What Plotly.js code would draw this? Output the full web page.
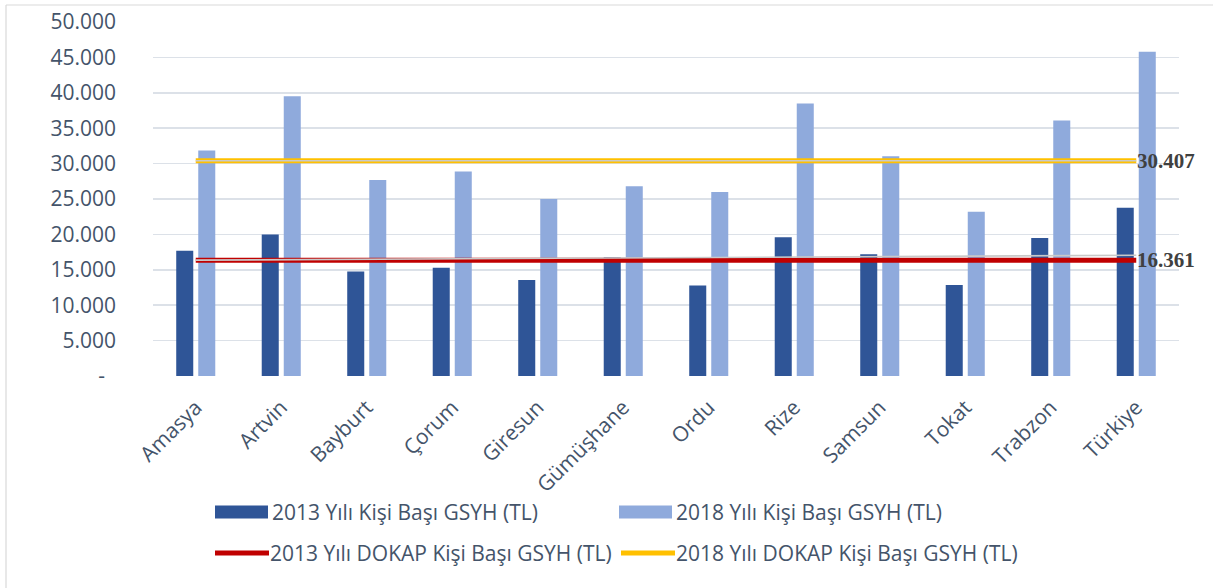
<!DOCTYPE html>
<html>
<head>
<meta charset="utf-8">
<script src="https://cdn.plot.ly/plotly-3.0.1.min.js"></script>
<style>
html,body{margin:0;padding:0;background:#fff;}
#chart{width:1213px;height:588px;}
</style>
</head>
<body>
<div id="chart"></div>
<script>
// ---- data ----
const categories = ["Amasya","Artvin","Bayburt","Çorum","Giresun","Gümüşhane","Ordu","Rize","Samsun","Tokat","Trabzon","Türkiye"];
const gsyh2013 = [17700, 20000, 14750, 15300, 13550, 16800, 12800, 19600, 17200, 12850, 19500, 23750];
const gsyh2018 = [31850, 39500, 27700, 28900, 25000, 26800, 26000, 38500, 31050, 23200, 36100, 45800];
const dokap2013 = [16361, 16361, 16361, 16361, 16361, 16361, 16361, 16361, 16361, 16361, 16361, 16361];
const dokap2018 = [30407, 30407, 30407, 30407, 30407, 30407, 30407, 30407, 30407, 30407, 30407, 30407];
const dokap2013GuideX = ["Amasya", "Türkiye"];
const dokap2013GuideY = [16361, 17050];
const seriesNames = ["2013 Yılı Kişi Başı GSYH (TL)", "2018 Yılı Kişi Başı GSYH (TL)", "2013 Yılı DOKAP Kişi Başı GSYH (TL)", "2018 Yılı DOKAP Kişi Başı GSYH (TL)"];
const yTickValues = [0, 5000, 10000, 15000, 20000, 25000, 30000, 35000, 40000, 45000, 50000];

// ---- style ----
const C2013 = "#2F5597", C2018 = "#8FAADC", CRED = "#C00000", CYEL = "#FFC000", CGUIDE = "#C9C9C9";
const TXT = "#44546A";
const FONT = "Open Sans, sans-serif";
const FS = 21;

function fmt(v){ return String(Math.round(v)).replace(/\B(?=(\d{3})+(?!\d))/g, "."); }
const yTickText = yTickValues.map(v => v === 0 ? "-\u00a0\u00a0" : fmt(v));

// plot area in pixels
const L = 153, R = 1179, T = 22, B = 376, W = 1213, H = 588;
const px = x => (x - L) / (R - L);
const py = y => (B - y) / (B - T);

const traces = [
  {type:"bar", x:categories, y:gsyh2013, name:seriesNames[0], marker:{color:C2013}, showlegend:false, cliponaxis:false},
  {type:"bar", x:categories, y:gsyh2018, name:seriesNames[1], marker:{color:C2018}, showlegend:false, cliponaxis:false},
  {type:"scatter", mode:"lines", x:categories, y:dokap2013, name:seriesNames[2], line:{color:CRED, width:5}, showlegend:false, cliponaxis:false},
  {type:"scatter", mode:"lines", x:dokap2013GuideX, y:dokap2013GuideY, line:{color:CGUIDE, width:1.6}, showlegend:false, hoverinfo:"skip", cliponaxis:false},
  {type:"scatter", mode:"lines", x:categories, y:dokap2018, name:seriesNames[3], line:{color:CYEL, width:5}, showlegend:false, cliponaxis:false},
  {type:"scatter", mode:"lines", x:categories, y:dokap2018, line:{color:CGUIDE, width:1.6}, showlegend:false, hoverinfo:"skip", cliponaxis:false}
];

const legendItems = [
  {x:215, y:512, kind:"box", color:C2013, name:seriesNames[0]},
  {x:619, y:512, kind:"box", color:C2018, name:seriesNames[1]},
  {x:213, y:553, kind:"line", color:CRED, name:seriesNames[2]},
  {x:619, y:553, kind:"line", color:CYEL, name:seriesNames[3]}
];

const shapes = [
  {type:"line", xref:"paper", yref:"paper", x0:px(6), x1:px(W+10), y0:py(5), y1:py(5), line:{color:"#D9D9D9", width:1.2}},
  {type:"line", xref:"paper", yref:"paper", x0:px(6), x1:px(6), y0:py(5), y1:py(H+10), line:{color:"#D9D9D9", width:1.2}}
];
const annotations = [];
legendItems.forEach(it => {
  if (it.kind === "box") {
    shapes.push({type:"rect", xref:"paper", yref:"paper", x0:px(it.x), x1:px(it.x+53), y0:py(it.y-6.5), y1:py(it.y+6.5), fillcolor:it.color, line:{width:0}});
  } else {
    shapes.push({type:"line", xref:"paper", yref:"paper", x0:px(it.x+2), x1:px(it.x+56), y0:py(it.y), y1:py(it.y), line:{color:it.color, width:5}});
  }
  annotations.push({xref:"paper", yref:"paper", x:px(it.x+55), y:py(it.y), xanchor:"left", yanchor:"middle", showarrow:false, text:it.name, font:{family:FONT, size:FS, color:TXT}});
});
[dokap2018[dokap2018.length-1], dokap2013[dokap2013.length-1]].forEach(v => {
  annotations.push({x:categories[categories.length-1], y:v, xref:"x", yref:"y", xanchor:"left", yanchor:"middle", xshift:-1, showarrow:false, text:fmt(v), font:{family:"Liberation Serif, serif", size:21, color:"#404040", weight:"bold"}});
});

const layout = {
  width:W, height:H,
  margin:{l:L, r:W-R, t:T, b:H-B, pad:0, autoexpand:false},
  paper_bgcolor:"#fff", plot_bgcolor:"#fff",
  font:{family:FONT, size:FS, color:TXT},
  barmode:"group", bargap:0.485, bargroupgap:0.227,
  showlegend:false,
  xaxis:{type:"category", automargin:false, range:[-0.5, 11.5], tickangle:-45, showgrid:false, zeroline:false, showline:false, ticks:"", ticklabelstandoff:14, tickfont:{family:FONT, size:FS, color:TXT}},
  yaxis:{automargin:false, range:[0,50000], tickvals:yTickValues, ticktext:yTickText, showgrid:true, gridcolor:"#DCE1E8", gridwidth:1.5, zeroline:false, showline:false, ticks:"", ticklabelstandoff:36, tickfont:{family:FONT, size:FS, color:TXT}},
  shapes:shapes,
  annotations:annotations
};

Plotly.newPlot("chart", traces, layout, {displayModeBar:false, staticPlot:true});
</script>
</body>
</html>
